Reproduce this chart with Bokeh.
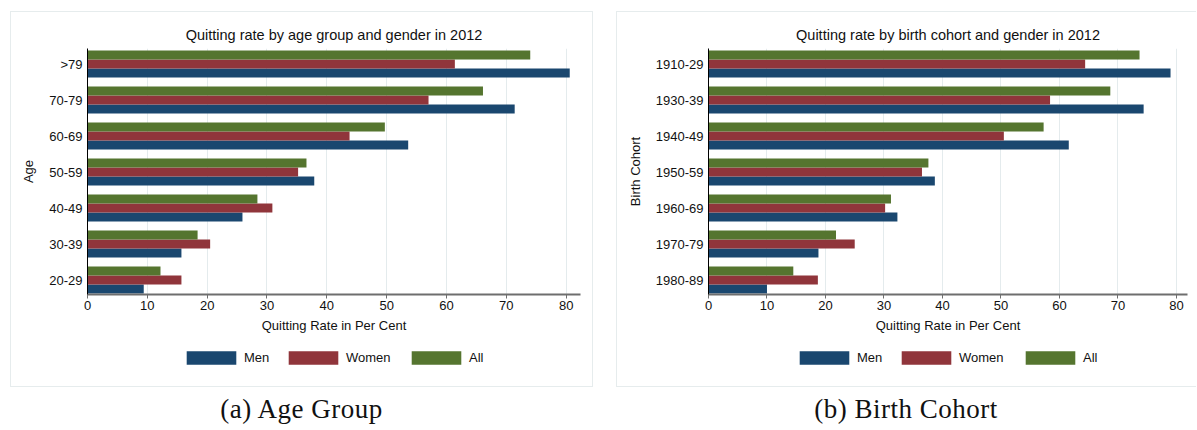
from bokeh.plotting import figure
from bokeh.models import (ColumnDataSource, Range1d, FixedTicker, Legend, LegendItem, Div)
from bokeh.layouts import row, column
from bokeh.transform import dodge
from bokeh.embed import file_html
from bokeh.resources import INLINE

# ---------------- data ----------------
age_groups = ["20-29", "30-39", "40-49", "50-59", "60-69", "70-79", ">79"]
age_men = [9.4, 15.7, 25.9, 37.9, 53.6, 71.4, 80.6]
age_women = [15.7, 20.5, 30.9, 35.2, 43.8, 57.0, 61.4]
age_all = [12.2, 18.4, 28.4, 36.6, 49.7, 66.1, 74.0]

cohorts = ["1980-89", "1970-79", "1960-69", "1950-59", "1940-49", "1930-39", "1910-29"]
coh_men = [10.0, 18.8, 32.3, 38.7, 61.6, 74.4, 79.0]
coh_women = [18.7, 25.0, 30.2, 36.5, 50.5, 58.4, 64.4]
coh_all = [14.5, 21.8, 31.2, 37.6, 57.3, 68.7, 73.7]

series = ["Men", "Women", "All"]
x_ticks = [0, 10, 20, 30, 40, 50, 60, 70, 80]
x_title = "Quitting Rate in Per Cent"

# ---------------- style ----------------
FONT = "Liberation Sans"
COLORS = ["#1a476f", "#90353b", "#55752f"]
OFFSETS = [-0.25, 0.0, 0.25]
BOX = "#e6eced"
MAIN_H = 329
LEG_H = 47


def make_panel(title, cats, men, women, allv, ylabel, width, ml, mr, x_end,
               legend_xs, margin, shadow):
    src = ColumnDataSource(dict(pos=list(range(len(cats))), Men=men, Women=women, All=allv))
    p = figure(width=width, height=MAIN_H, x_range=Range1d(0, x_end),
               y_range=Range1d(-0.4, 6.433), output_backend="svg",
               toolbar_location=None, min_border_left=ml, min_border_right=mr,
               min_border_top=37, min_border_bottom=MAIN_H - 37 - 246, title=title)
    p.border_fill_alpha = 0
    p.background_fill_color = "white"
    p.outline_line_color = None

    p.title.align = "center"
    p.title.text_font = FONT
    p.title.text_font_size = "14.5px"
    p.title.text_font_style = "normal"
    p.title.text_color = "#111111"
    p.title.standoff = 12

    for name, col, off in zip(series, COLORS, OFFSETS):
        p.hbar(y=dodge("pos", off), left=0, right=name, height=0.25,
               source=src, fill_color=col, line_color=None)

    # x axis
    xa = p.xaxis[0]
    xa.ticker = FixedTicker(ticks=x_ticks)
    xa.axis_label = x_title
    xa.axis_label_text_font = FONT
    xa.axis_label_text_font_size = "13px"
    xa.axis_label_text_font_style = "normal"
    xa.axis_label_text_color = "#111111"
    xa.axis_label_standoff = 5
    xa.major_label_text_font = FONT
    xa.major_label_text_font_size = "13px"
    xa.major_label_text_color = "#111111"
    xa.major_label_standoff = 2
    xa.major_tick_out = 4
    xa.major_tick_in = 0
    xa.minor_tick_line_color = None
    xa.major_tick_line_color = "#6e6e6e"
    xa.axis_line_color = "#6e6e6e"
    xa.axis_line_width = 2

    # y axis
    ya = p.yaxis[0]
    ya.ticker = FixedTicker(ticks=list(range(len(cats))))
    ya.major_label_overrides = {i: c for i, c in enumerate(cats)}
    ya.axis_label = ylabel
    ya.axis_label_text_font = FONT
    ya.axis_label_text_font_size = "13px"
    ya.axis_label_text_font_style = "normal"
    ya.axis_label_text_color = "#111111"
    ya.axis_label_standoff = 10
    ya.major_label_text_font = FONT
    ya.major_label_text_font_size = "13px"
    ya.major_label_text_color = "#111111"
    ya.major_label_standoff = 5
    ya.major_tick_out = 0
    ya.major_tick_in = 0
    ya.minor_tick_out = 0
    ya.major_tick_line_color = None
    ya.minor_tick_line_color = None
    ya.axis_line_color = "black"
    ya.axis_line_width = 1

    p.ygrid.grid_line_color = None
    p.xgrid.grid_line_color = "#e4ebed"
    p.xgrid.grid_line_width = 1

    # legend strip (own frame, aligned with the chart frame, so keys are not clipped)
    pl = figure(width=width, height=LEG_H, x_range=Range1d(0, 1), y_range=Range1d(0, 1),
                output_backend="svg", toolbar_location=None,
                x_axis_location=None, y_axis_location=None,
                min_border_left=ml, min_border_right=mr, min_border_top=0, min_border_bottom=0)
    pl.border_fill_alpha = 0
    pl.background_fill_alpha = 0
    pl.outline_line_color = None
    pl.grid.grid_line_color = None
    for name, col, lx in zip(series, COLORS, legend_xs):
        # key renderer: a zero-length bar far outside the strip's visible range
        key = pl.hbar(y=[-50], right=[0], left=0, height=0.25, fill_color=col,
                      line_color=None)
        lg = Legend(items=[LegendItem(label=name, renderers=[key])],
                    location=(lx, 21), orientation="horizontal")
        lg.padding = 0
        lg.margin = 0
        lg.spacing = 0
        lg.glyph_width = 62   # area keys are drawn inset by 10% -> ~50 x 14 px
        lg.glyph_height = 17
        lg.label_height = 17
        lg.label_standoff = 2
        lg.label_text_font = FONT
        lg.label_text_font_size = "13px"
        lg.label_text_color = "#111111"
        lg.border_line_color = None
        lg.background_fill_alpha = 0
        pl.add_layout(lg, "center")

    return column(p, pl, margin=margin, styles={"box-shadow": shadow})


c1 = make_panel("Quitting rate by age group and gender in 2012", age_groups,
                age_men, age_women, age_all, "Age", 583, 77, 13, 82.4,
                [93, 195, 318], (11, 0, 0, 10), "inset 0 0 0 1px " + BOX)
c2 = make_panel("Quitting rate by birth cohort and gender in 2012", cohorts,
                coh_men, coh_women, coh_all, "Birth Cohort", 580, 92, 9, 81.9,
                [85, 187, 311], (11, 0, 0, 23),
                "inset 1px 1px 0 0 " + BOX + ", inset 0 -1px 0 0 " + BOX)

cap_style = {"font-family": "Liberation Serif", "font-size": "27px",
             "line-height": "25px", "letter-spacing": "0.5px",
             "text-align": "center", "color": "#111111"}
d1 = Div(text="(a) Age Group", width=583, height=25, margin=(10, 0, 0, 10),
         styles=cap_style)
d2 = Div(text="(b) Birth Cohort", width=580, height=25, margin=(10, 0, 0, 23),
         styles=cap_style)

layout = column(row(c1, c2), row(d1, d2))

open("out.html", "w").write(file_html(layout, INLINE))
